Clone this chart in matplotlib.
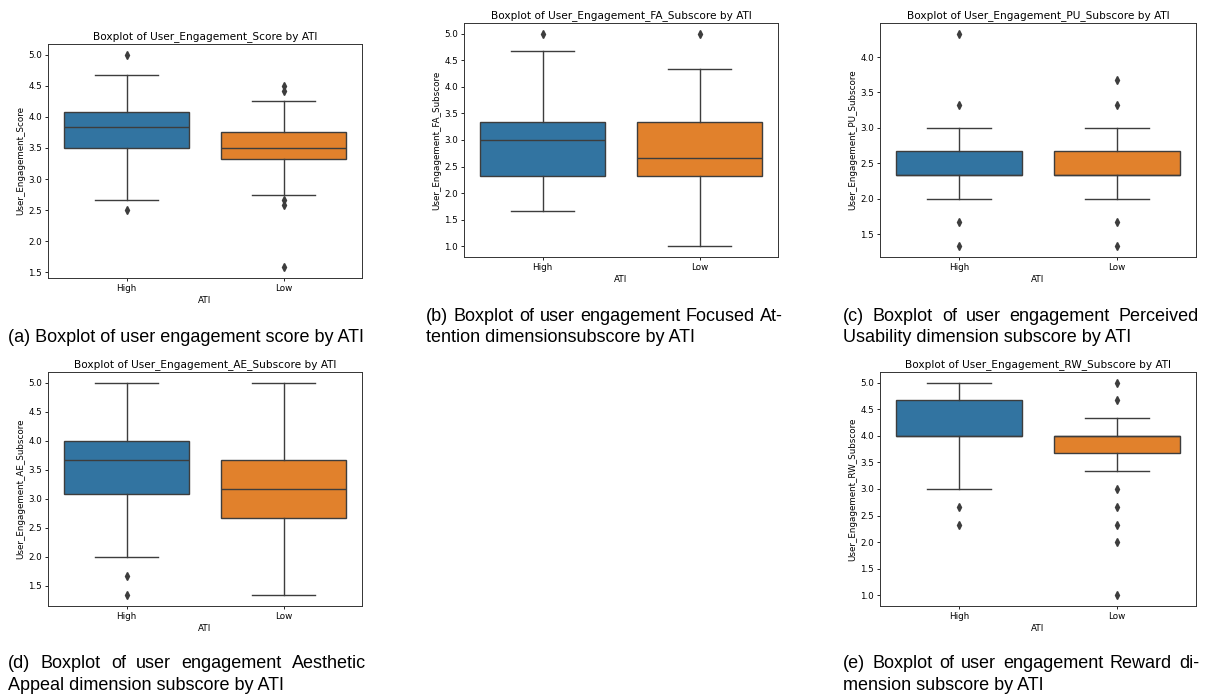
import matplotlib
matplotlib.use('Agg')
import matplotlib.pyplot as plt

# box statistics: [High, Low]
groups = ['High', 'Low']
ylabels = ['User_Engagement_Score', 'User_Engagement_FA_Subscore', 'User_Engagement_PU_Subscore',
           'User_Engagement_AE_Subscore', 'User_Engagement_RW_Subscore']

score_q1 = [3.50, 3.33]
score_med = [3.83, 3.50]
score_q3 = [4.08, 3.75]
score_lo = [2.67, 2.75]
score_hi = [4.67, 4.25]
score_fliers = [[5.0, 2.5], [4.5, 4.42, 2.67, 2.58, 1.58]]

fa_q1 = [2.33, 2.33]
fa_med = [3.0, 2.67]
fa_q3 = [3.33, 3.33]
fa_lo = [1.67, 1.0]
fa_hi = [4.67, 4.33]
fa_fliers = [[5.0], [5.0]]

pu_q1 = [2.33, 2.33]
pu_med = [2.33, 2.33]
pu_q3 = [2.67, 2.67]
pu_lo = [2.0, 2.0]
pu_hi = [3.0, 3.0]
pu_fliers = [[4.33, 3.33, 1.67, 1.33], [3.67, 3.33, 1.67, 1.33]]

ae_q1 = [3.08, 2.67]
ae_med = [3.67, 3.17]
ae_q3 = [4.0, 3.67]
ae_lo = [2.0, 1.33]
ae_hi = [5.0, 5.0]
ae_fliers = [[1.67, 1.33], []]

rw_q1 = [4.0, 3.67]
rw_med = [4.0, 4.0]
rw_q3 = [4.67, 4.0]
rw_lo = [3.0, 3.33]
rw_hi = [5.0, 4.33]
rw_fliers = [[2.67, 2.33], [5.0, 4.67, 3.0, 2.67, 2.33, 2.0, 1.0]]

box_colors = ['#3274a1', '#e1812c']
gray = '#3d3d3d'
W, H = 1213, 696


def make_stats(q1, med, q3, lo, hi, fliers):
    return [dict(q1=q1[i], med=med[i], q3=q3[i], whislo=lo[i], whishi=hi[i], fliers=fliers[i], label=groups[i])
            for i in range(len(groups))]


def draw_box(rect, stats, ylabel):
    ax = fig.add_axes(rect)
    bp = ax.bxp(stats, positions=[0, 1], widths=0.8, patch_artist=True, showfliers=True,
                boxprops=dict(edgecolor=gray, linewidth=1.0),
                medianprops=dict(color=gray, linewidth=1.0),
                whiskerprops=dict(color=gray, linewidth=1.0),
                capprops=dict(color=gray, linewidth=1.0),
                capwidths=0.4,
                flierprops=dict(marker='d', markerfacecolor=gray, markeredgecolor=gray, markersize=3.8))
    for patch, c in zip(bp['boxes'], box_colors):
        patch.set_facecolor(c)
    ax.set_xlim(-0.5, 1.5)
    ax.set_xticks([0, 1])
    ax.set_xticklabels(groups)
    ax.set_xlabel('ATI', fontsize=6.3, labelpad=2.5)
    ax.set_ylabel(ylabel, fontsize=6.3, labelpad=2.5)
    ax.set_title(f'Boxplot of {ylabel} by ATI', fontsize=7.6, pad=3.8)
    ax.tick_params(labelsize=6.3, length=2.2, width=0.6, pad=2)
    for s in ax.spines.values():
        s.set_linewidth(0.7)
        s.set_color('#333333')
    return ax


def px(x, y):
    return x / W, 1 - y / H


def caption(x0, y, text, x1=None):
    cap_font = dict(family='Liberation Sans', fontsize=13.0, va='center', color='black')
    if x1 is None:
        fig.text(*px(x0, y), text, ha='left', **cap_font)
        return
    # justified line: spread words between x0 and x1
    words = text.split(' ')
    renderer = fig.canvas.get_renderer()
    items = [fig.text(0, 0, w, ha='left', **cap_font) for w in words]
    widths = [t.get_window_extent(renderer).width for t in items]
    gap = (x1 - x0 - sum(widths)) / (len(words) - 1)
    x = x0
    for t, w in zip(items, widths):
        t.set_position(px(x, y))
        x += w + gap


fig = plt.figure(figsize=(W / 100, H / 100), dpi=100)

draw_box([48 / W, 1 - 278 / H, 314 / W, 234 / H],
         make_stats(score_q1, score_med, score_q3, score_lo, score_hi, score_fliers), ylabels[0])
draw_box([464 / W, 1 - 257 / H, 314 / W, 234 / H],
         make_stats(fa_q1, fa_med, fa_q3, fa_lo, fa_hi, fa_fliers), ylabels[1])
draw_box([880 / W, 1 - 257 / H, 316 / W, 234 / H],
         make_stats(pu_q1, pu_med, pu_q3, pu_lo, pu_hi, pu_fliers), ylabels[2])
draw_box([48 / W, 1 - 606 / H, 314 / W, 234 / H],
         make_stats(ae_q1, ae_med, ae_q3, ae_lo, ae_hi, ae_fliers), ylabels[3])
draw_box([880 / W, 1 - 606 / H, 316 / W, 234 / H],
         make_stats(rw_q1, rw_med, rw_q3, rw_lo, rw_hi, rw_fliers), ylabels[4])

caption(8, 338, '(a) Boxplot of user engagement score by ATI')
caption(426, 316, '(b) Boxplot of user engagement Focused At-', 783)
caption(426, 338, 'tention dimensionsubscore by ATI')
caption(843, 316, '(c) Boxplot of user engagement Perceived', 1199)
caption(843, 338, 'Usability dimension subscore by ATI')
caption(8, 664, '(d) Boxplot of user engagement Aesthetic', 366)
caption(8, 686, 'Appeal dimension subscore by ATI')
caption(843, 664, '(e) Boxplot of user engagement Reward di-', 1199)
caption(843, 686, 'mension subscore by ATI')

fig.savefig('out.png', dpi=100)
